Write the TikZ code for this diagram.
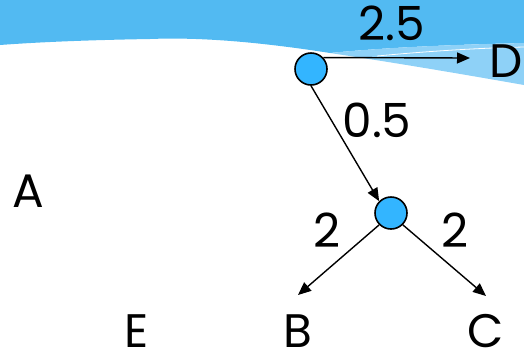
\documentclass[tikz,border=0pt]{standalone}
\usepackage{fontspec}
\setmainfont{Poppins}
\usetikzlibrary{arrows.meta}
\definecolor{bandblue}{HTML}{52BAF2}
\definecolor{wedgeblue}{HTML}{8ED1F7}
\definecolor{dotblue}{HTML}{33B5FF}
\tikzset{
  dot/.style={circle,draw=black,line width=1.6pt,fill=dotblue,minimum size=32pt,inner sep=0pt},
  lbl/.style={font=\fontsize{47}{50}\selectfont,inner sep=0pt,anchor=base,text depth=0pt},
  edge/.style={line width=1.4pt,-{Triangle[length=13pt,width=11pt]}}
}
\begin{document}
\begin{tikzpicture}[x=1pt,y=-1pt]
\useasboundingbox (0,0) rectangle (524,357);
% background band
\fill[bandblue] (0,0) -- (524,0) -- (524,43)
  .. controls (440,45) and (380,48) .. (330,53)
  .. controls (260,42) and (200,37) .. (150,39)
  .. controls (90,40) and (40,42) .. (0,45) -- cycle;
\fill[wedgeblue] (330,53) .. controls (380,48) and (440,45) .. (524,43)
  -- (524,85) .. controls (450,72) and (390,62) .. (330,53) -- cycle;
\draw[white,line width=0.8pt] (377,56) .. controls (430,51) and (480,48) .. (524,47);
% nodes
\node[dot] (c1) at (311,69) {};
\node[dot] (c2) at (391,213) {};
\node[lbl] (D) at (506,77) {D};
\node[lbl] (A) at (28,207) {A};
\node[lbl] (E) at (137,347) {E};
\node[lbl] (B) at (298,347) {B};
\node[lbl] (C) at (486,347) {C};
\coordinate (dtip) at (470,58);
\coordinate (btip) at (298,295);
\coordinate (ctip) at (486,296);
% edges
\draw[edge] (c1.43) -- (dtip);
\draw[edge] (c1.south) -- (c2.135);
\draw[edge] (c2.225) -- (btip);
\draw[edge] (c2.-45) -- (ctip);
% edge labels
\node[lbl] (l25) at (392,40) {2.5};
\node[lbl] (l05) at (377,137) {0.5};
\node[lbl] (l2a) at (327,247) {2};
\node[lbl] (l2b) at (455,247) {2};
\end{tikzpicture}
\end{document}
